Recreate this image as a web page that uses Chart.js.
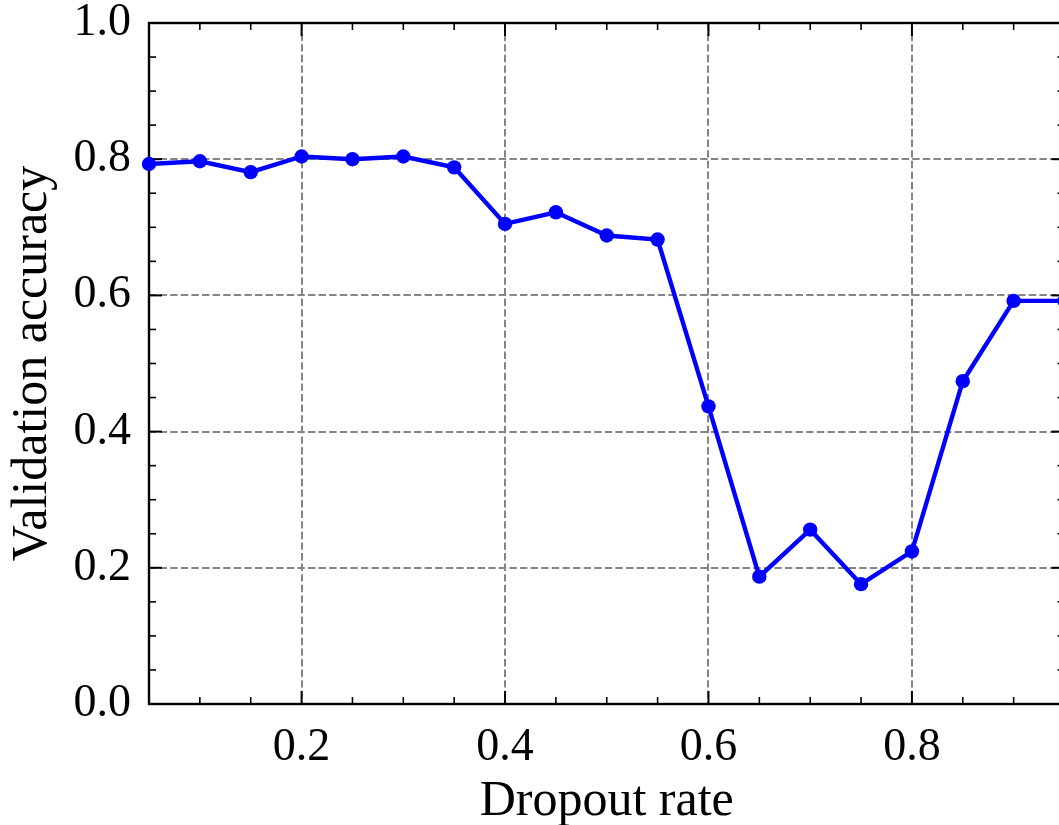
<!DOCTYPE html>
<html>
<head>
<meta charset="utf-8">
<script src="https://cdn.jsdelivr.net/npm/chart.js@4/dist/chart.umd.min.js"></script>
<style>
  html, body { margin: 0; padding: 0; overflow: hidden; background: #fff; width: 1059px; height: 825px; }
  #wrap { width: 1066px; height: 825px; position: relative; }
  canvas { display: block; }
</style>
</head>
<body>
<div id="wrap"><canvas id="c" width="1066" height="825"></canvas></div>
<script>
// Validation accuracy against dropout rate
const dropoutRates = [0.05, 0.10, 0.15, 0.20, 0.25, 0.30, 0.35, 0.40, 0.45, 0.50,
                      0.55, 0.60, 0.65, 0.70, 0.75, 0.80, 0.85, 0.90, 0.95];
const valAccuracy  = [0.793, 0.797, 0.781, 0.804, 0.800, 0.804, 0.788, 0.705, 0.722, 0.688,
                      0.682, 0.437, 0.187, 0.256, 0.176, 0.224, 0.474, 0.592, 0.592];

const xMajorTicks = [0.2, 0.4, 0.6, 0.8];
const yMajorTicks = [0.0, 0.2, 0.4, 0.6, 0.8, 1.0];
const xMinorTicks = [0.05, 0.10, 0.15, 0.25, 0.30, 0.35, 0.45, 0.50, 0.55, 0.65, 0.70, 0.75, 0.85, 0.90, 0.95];
const yMinorTicks = [0.05, 0.10, 0.15, 0.25, 0.30, 0.35, 0.45, 0.50, 0.55, 0.65, 0.70, 0.75, 0.85, 0.90, 0.95];

const SERIF = "'Liberation Serif', 'Times New Roman', serif";
const MAJOR_LEN = 13;
const MINOR_LEN = 7;

// Closed frame with inward-pointing major and minor ticks on all four sides
const frameTicks = {
  id: 'frameTicks',
  beforeDatasetsDraw(chart) {
    const { ctx, chartArea: a, scales: { x, y } } = chart;
    ctx.save();
    ctx.strokeStyle = '#000';
    ctx.lineCap = 'butt';
    const seg = (x1, y1, x2, y2) => { ctx.beginPath(); ctx.moveTo(x1, y1); ctx.lineTo(x2, y2); ctx.stroke(); };
    ctx.lineWidth = 1.6;
    xMinorTicks.forEach(v => {
      const px = x.getPixelForValue(v);
      seg(px, a.bottom, px, a.bottom - MINOR_LEN);
      seg(px, a.top, px, a.top + MINOR_LEN);
    });
    yMinorTicks.forEach(v => {
      const py = y.getPixelForValue(v);
      seg(a.left, py, a.left + MINOR_LEN, py);
      seg(a.right, py, a.right - MINOR_LEN, py);
    });
    ctx.lineWidth = 2;
    xMajorTicks.forEach(v => {
      const px = x.getPixelForValue(v);
      seg(px, a.bottom, px, a.bottom - MAJOR_LEN);
      seg(px, a.top, px, a.top + MAJOR_LEN);
    });
    yMajorTicks.forEach(v => {
      const py = y.getPixelForValue(v);
      seg(a.left, py, a.left + MAJOR_LEN, py);
      seg(a.right, py, a.right - MAJOR_LEN, py);
    });
    ctx.lineWidth = 2.4;
    ctx.strokeRect(a.left, a.top, a.right - a.left, a.bottom - a.top);
    ctx.restore();
  }
};

new Chart(document.getElementById('c'), {
  type: 'line',
  data: {
    datasets: [{
      data: dropoutRates.map((r, i) => ({ x: r, y: valAccuracy[i] })),
      borderColor: '#0000ff',
      backgroundColor: '#0000ff',
      borderWidth: 4.4,
      pointRadius: 7.2,
      pointBorderWidth: 0,
      pointHoverRadius: 7.2,
      tension: 0,
      fill: false,
      clip: false
    }]
  },
  options: {
    responsive: false,
    animation: false,
    events: [],
    layout: { autoPadding: false, padding: { top: 23, right: 1.5, left: 0, bottom: 0 } },
    plugins: { legend: { display: false }, tooltip: { enabled: false } },
    scales: {
      x: {
        type: 'linear',
        min: 0.05,
        max: 0.95,
        afterBuildTicks: s => { s.ticks = xMajorTicks.map(v => ({ value: v })); },
        afterFit: s => { s.height = 121; s.paddingLeft = 0; s.paddingRight = 0; },
        grid: { color: '#858585', lineWidth: 2, drawTicks: false },
        border: { display: false, dash: [7.4, 3.2] },
        ticks: {
          padding: 16, color: '#000', maxRotation: 0, autoSkip: false,
          font: { family: SERIF, size: 46 },
          callback: v => v.toFixed(1)
        },
        title: {
          display: true, text: 'Dropout rate', color: '#000',
          font: { family: SERIF, size: 50, lineHeight: 0.94 },
          padding: { top: 0, bottom: 0 }
        }
      },
      y: {
        type: 'linear',
        min: 0,
        max: 1,
        afterBuildTicks: s => { s.ticks = yMajorTicks.map(v => ({ value: v })); },
        afterFit: s => { s.width = 149; s.paddingTop = 0; s.paddingBottom = 0; },
        grid: { color: '#858585', lineWidth: 2, drawTicks: false },
        border: { display: false, dash: [7.4, 3.2] },
        ticks: {
          padding: 18, color: '#000',
          font: { family: SERIF, size: 46 },
          callback: v => v.toFixed(1)
        },
        title: {
          display: true, text: 'Validation accuracy', color: '#000',
          font: { family: SERIF, size: 50, lineHeight: 1 },
          padding: { top: 8, bottom: 0 }
        }
      }
    }
  },
  plugins: [frameTicks]
});
</script>
</body>
</html>
